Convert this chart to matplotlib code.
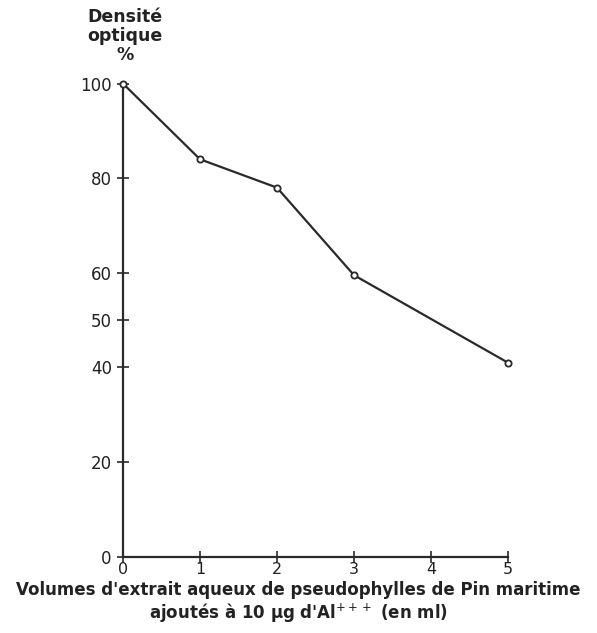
import matplotlib.pyplot as plt

# volumes added (ml) and optical density (%)
volumes = [0, 1, 2, 3, 5]
densite = [100, 84, 78, 59.5, 41]

y_ticks = [0, 20, 40, 50, 60, 80, 100]
x_ticks = [0, 1, 2, 3, 4, 5]

plt.rcParams['font.family'] = ['DejaVu Sans']
ink = '#2a2a2a'

fig = plt.figure(figsize=(5.97, 6.33), dpi=100)
ax = fig.add_axes([0.206, 0.1205, 0.645, 0.7475])

ax.plot(volumes, densite, color=ink, lw=1.6, marker='o', markersize=4.5,
        markerfacecolor='white', markeredgecolor=ink, markeredgewidth=1.3,
        clip_on=False, zorder=3)

ax.set_xlim(0, 5)
ax.set_ylim(0, 100)
ax.spines['top'].set_visible(False)
ax.spines['right'].set_visible(False)
for s in ['left', 'bottom']:
    ax.spines[s].set_linewidth(1.6)
    ax.spines[s].set_color(ink)

ax.set_yticks(y_ticks)
ax.set_yticklabels([str(v) for v in y_ticks])
ax.set_xticks(x_ticks)
ax.set_xticklabels([str(v) for v in x_ticks])
ax.tick_params(axis='both', direction='inout', length=8, width=1.2, colors=ink,
               labelsize=12, labelcolor='#222222')
ax.tick_params(axis='y', pad=4)
ax.tick_params(axis='x', pad=0, labelsize=11.5)

fig.text(0.21, 0.988, "Densité\noptique\n%", ha='center', va='top',
         fontsize=12.5, fontweight='bold', color='#222222', linespacing=1.1)

fig.text(0.5, 0.068, "Volumes d'extrait aqueux de pseudophylles de Pin maritime",
         ha='center', va='center', fontsize=12, fontweight='bold', color='#222222')
fig.text(0.5, 0.033, "ajoutés à 10 µg d'Al$^{+++}$ (en ml)",
         ha='center', va='center', fontsize=12, fontweight='bold', color='#222222')

fig.savefig('out.png', dpi=100)
